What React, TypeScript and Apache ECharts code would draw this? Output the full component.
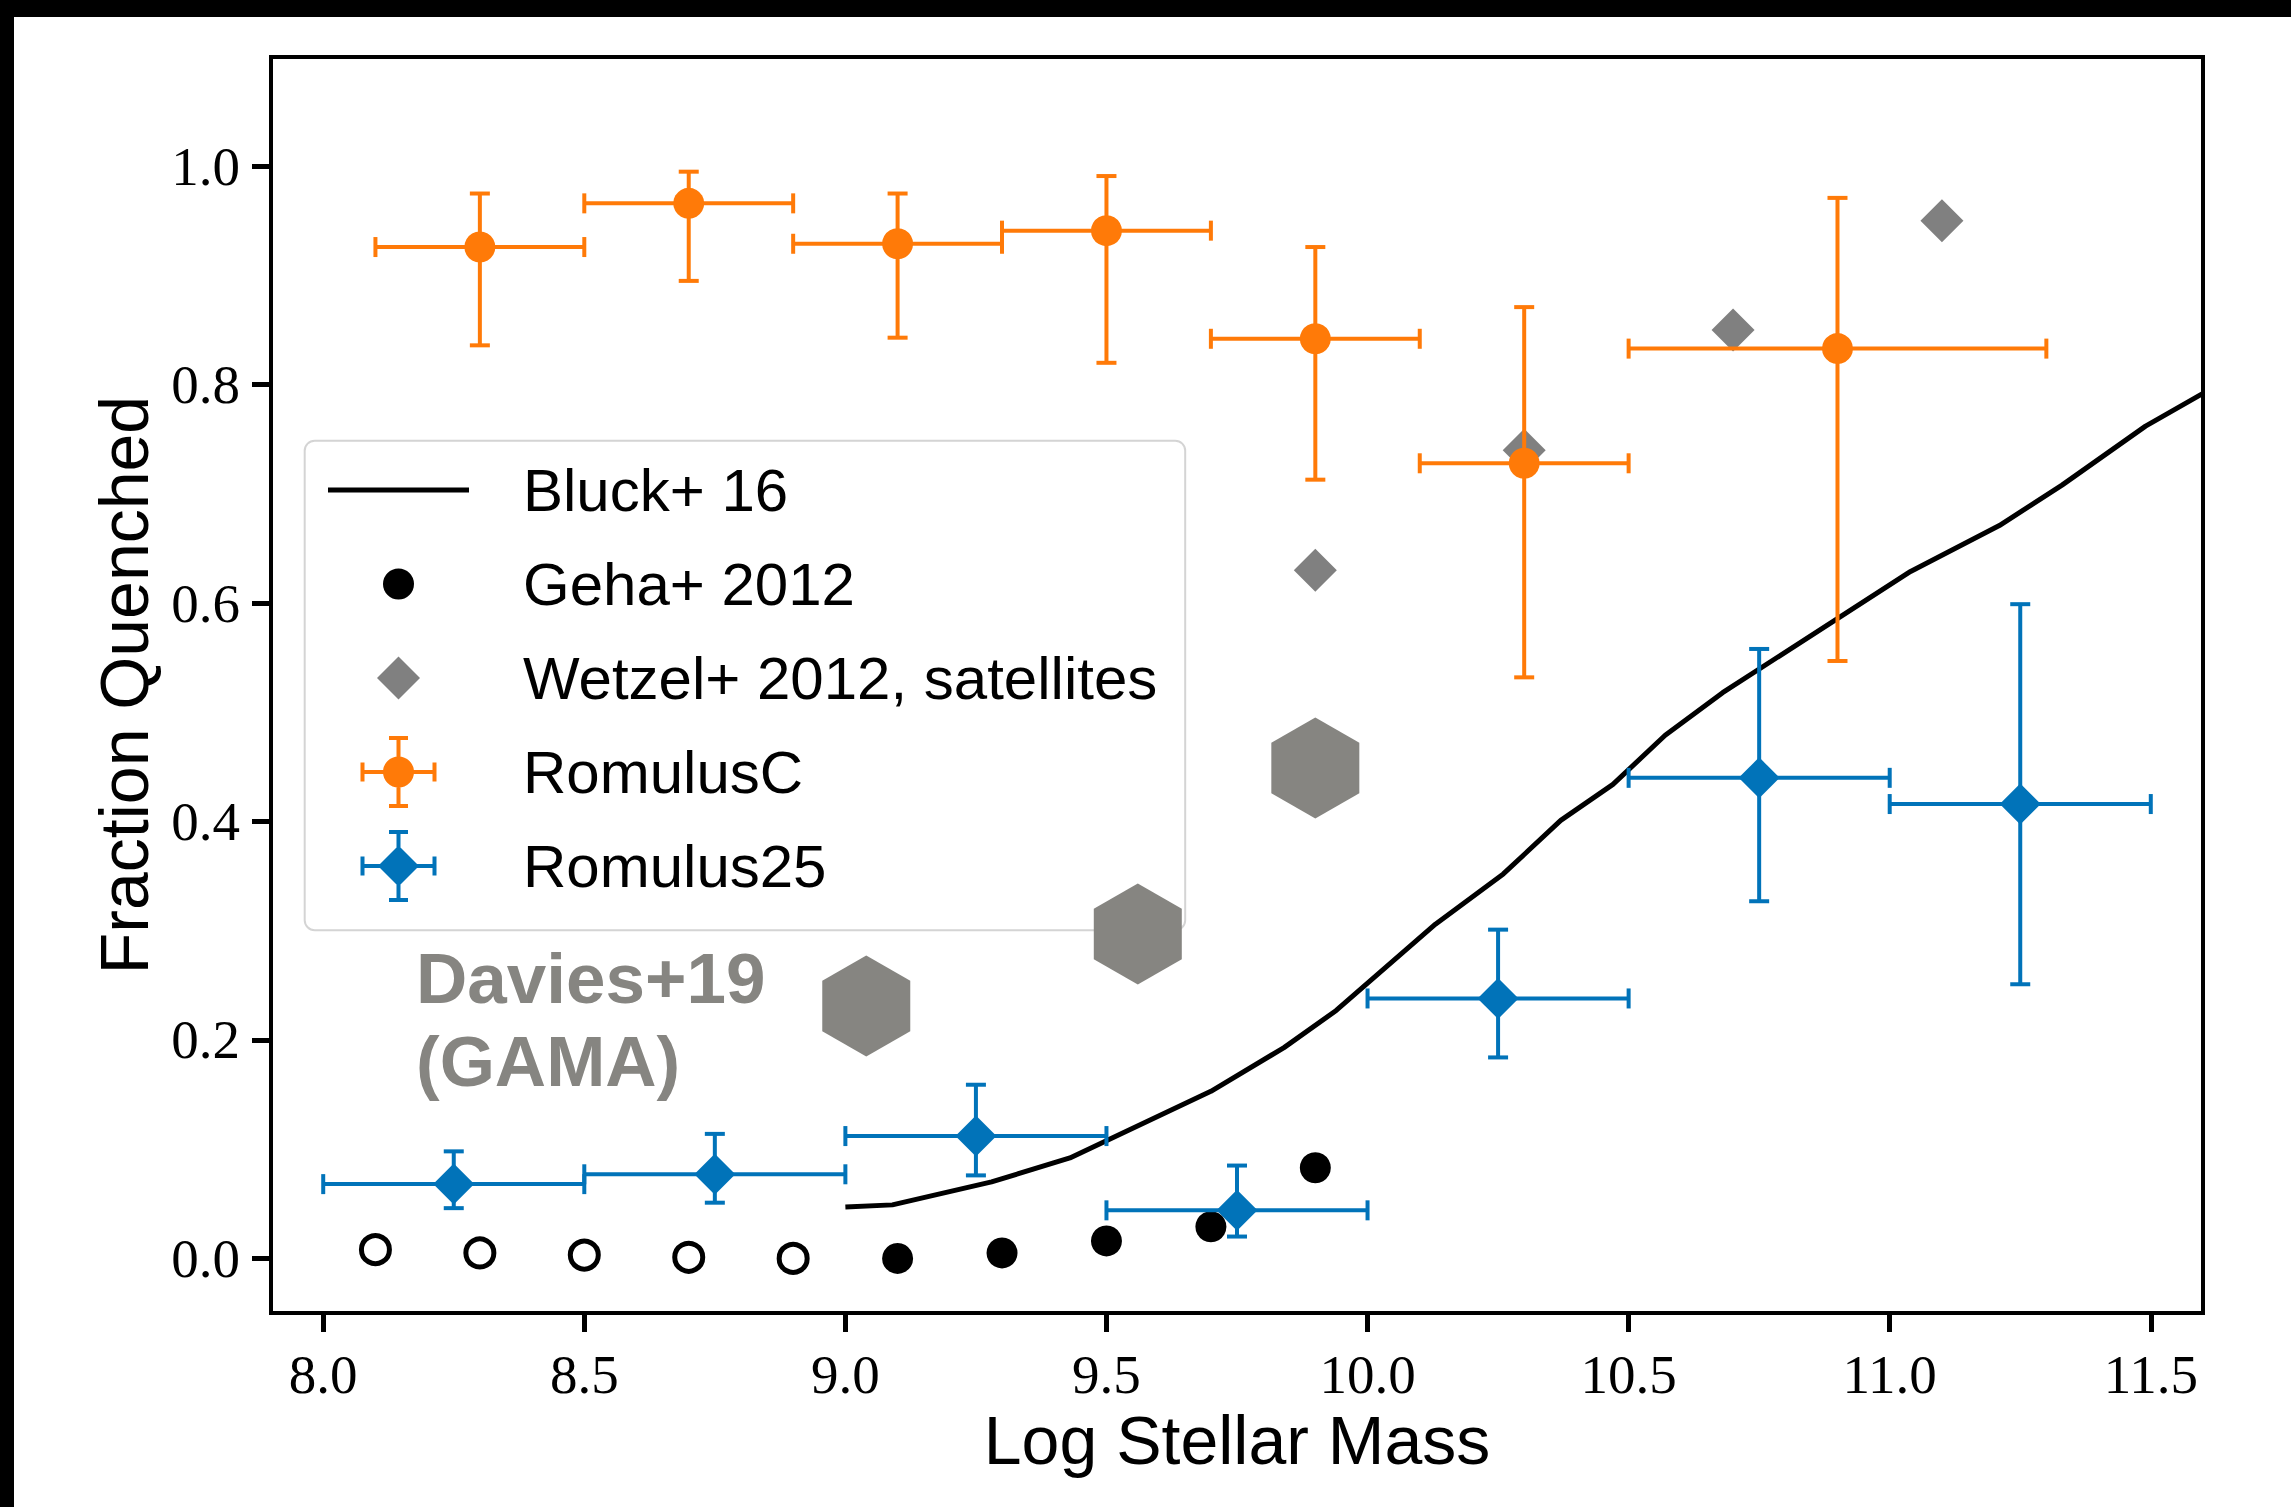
import React, { useEffect, useRef } from 'react';
import * as echarts from 'echarts';

// ---------- data ----------
const xTicks = [8.0, 8.5, 9.0, 9.5, 10.0, 10.5, 11.0, 11.5];
const yTicks = [0.0, 0.2, 0.4, 0.6, 0.8, 1.0];

const bluckX = [9.0, 9.09, 9.28, 9.43, 9.70, 9.84, 9.94, 10.13, 10.26, 10.37, 10.47, 10.57, 10.68, 11.04, 11.21, 11.33, 11.49, 11.6];
const bluckY = [0.047, 0.049, 0.070, 0.092, 0.153, 0.193, 0.227, 0.306, 0.352, 0.401, 0.434, 0.479, 0.518, 0.629, 0.671, 0.708, 0.762, 0.792];

const gehaX = [9.1, 9.3, 9.5, 9.7, 9.9];
const gehaY = [0.0, 0.005, 0.016, 0.029, 0.083];

const gehaOpenX = [8.1, 8.3, 8.5, 8.7, 8.9];
const gehaOpenY = [0.008, 0.005, 0.003, 0.001, 0.0];

const wetzelX = [9.9, 10.3, 10.7, 11.1];
const wetzelY = [0.630, 0.740, 0.850, 0.950];

const romCX = [8.3, 8.7, 9.1, 9.5, 9.9, 10.3, 10.9];
const romCY = [0.926, 0.966, 0.929, 0.941, 0.842, 0.728, 0.833];
const romCXLo = [8.1, 8.5, 8.9, 9.3, 9.7, 10.1, 10.5];
const romCXHi = [8.5, 8.9, 9.3, 9.7, 10.1, 10.5, 11.3];
const romCYLo = [0.836, 0.895, 0.843, 0.820, 0.713, 0.532, 0.547];
const romCYHi = [0.975, 0.995, 0.975, 0.991, 0.926, 0.871, 0.971];

const rom25X = [8.25, 8.75, 9.25, 9.75, 10.25, 10.75, 11.25];
const rom25Y = [0.068, 0.077, 0.112, 0.044, 0.238, 0.440, 0.416];
const rom25XLo = [8.0, 8.5, 9.0, 9.5, 10.0, 10.5, 11.0];
const rom25XHi = [8.5, 9.0, 9.5, 10.0, 10.5, 11.0, 11.5];
const rom25YLo = [0.046, 0.051, 0.076, 0.020, 0.184, 0.327, 0.251];
const rom25YHi = [0.098, 0.114, 0.159, 0.085, 0.301, 0.558, 0.599];

const daviesX = [9.04, 9.56, 9.9];
const daviesY = [0.231, 0.297, 0.449];

const legendNames = ['Bluck+ 16', 'Geha+ 2012', 'Wetzel+ 2012, satellites', 'RomulusC', 'Romulus25'];
const daviesLines = ['Davies+19', '(GAMA)'];

// ---------- styles ----------
const ORANGE = '#ff7a08';
const BLUE = '#0173b9';
const GRAY = '#808080';
const HEX = '#868581';

const zip = (a: number[], b: number[]) => a.map((v, i) => [v, b[i]]);

// legend icon helpers (icon box 190 x 72)
const R = (x: number, y: number, w: number, h: number) =>
  `M${x} ${y}L${x + w} ${y}L${x + w} ${y + h}L${x} ${y + h}Z`;
const CIRC = (cx: number, cy: number, r: number) =>
  `M${cx - r} ${cy}A${r} ${r} 0 1 1 ${cx + r} ${cy}A${r} ${r} 0 1 1 ${cx - r} ${cy}Z`;
const DIAM = (cx: number, cy: number, h: number) =>
  `M${cx} ${cy - h}L${cx + h} ${cy}L${cx} ${cy + h}L${cx - h} ${cy}Z`;
const BOX = 'M0 0M190 72';
const CX = 70.5;
const CY = 36;
const ERR =
  R(34.5, 34, 72, 4) + R(32.5, 26.5, 4, 19) + R(104.5, 26.5, 4, 19) +
  R(68.5, 0.5, 4, 71) + R(61, 0, 19, 4) + R(61, 68, 19, 4);

const iconLine = 'path://' + BOX + R(0, 33.5, 141, 5);
const iconGeha = 'path://' + BOX + CIRC(CX, CY, 15.5);
const iconWetzel = 'path://' + BOX + DIAM(CX, CY, 21.5);
const iconRomC = 'path://' + BOX + ERR + CIRC(CX, CY, 15.5);
const iconRom25 = 'path://' + BOX + ERR + DIAM(CX, CY, 20.5);

function errRender(color: string) {
  return (params: any, api: any) => {
    const x = api.value(0), y = api.value(1);
    const xl = api.value(2), xh = api.value(3), yl = api.value(4), yh = api.value(5);
    const pL = api.coord([xl, y]);
    const pR = api.coord([xh, y]);
    const pB = api.coord([x, yl]);
    const pT = api.coord([x, yh]);
    const cap = 10;
    const style = { stroke: color, lineWidth: 4, fill: 'none' };
    const ln = (x1: number, y1: number, x2: number, y2: number) => ({
      type: 'line', shape: { x1, y1, x2, y2 }, style,
    });
    return {
      type: 'group',
      children: [
        ln(pL[0], pL[1], pR[0], pR[1]),
        ln(pL[0], pL[1] - cap, pL[0], pL[1] + cap),
        ln(pR[0], pR[1] - cap, pR[0], pR[1] + cap),
        ln(pB[0], pB[1], pT[0], pT[1]),
        ln(pB[0] - cap, pB[1], pB[0] + cap, pB[1]),
        ln(pT[0] - cap, pT[1], pT[0] + cap, pT[1]),
      ],
    };
  };
}

const errData = (x: number[], y: number[], xl: number[], xh: number[], yl: number[], yh: number[]) =>
  x.map((v, i) => [v, y[i], xl[i], xh[i], yl[i], yh[i]]);

const axisLabelFont = { fontFamily: 'Liberation Serif', fontSize: 55, color: '#000' };
const nameFont = { fontFamily: 'Liberation Sans', fontSize: 68, color: '#000', verticalAlign: 'middle' as const };

export default function App() {
  const ref = useRef<HTMLDivElement>(null);
  useEffect(() => {
    if (!ref.current) return;
    const chart = echarts.init(ref.current, null, { renderer: 'svg', width: 2291, height: 1507 });
    const option: any = {
      animation: false,
      backgroundColor: '#ffffff',
      grid: { left: 271, top: 57, width: 1932, height: 1256, show: true, borderColor: '#000', borderWidth: 4, backgroundColor: 'transparent', containLabel: false, outerBoundsMode: 'none' },
      xAxis: {
        type: 'value', min: 7.9, max: 11.6,
        name: 'Log Stellar Mass', nameLocation: 'middle', nameGap: 123, nameTextStyle: nameFont,
        axisLine: { show: true, onZero: false, lineStyle: { color: '#000', width: 4 } },
        axisTick: { show: true, inside: false, length: 19, lineStyle: { color: '#000', width: 5 }, customValues: xTicks },
        axisLabel: { ...axisLabelFont, margin: 61, verticalAlign: 'middle', customValues: xTicks, formatter: (v: number) => v.toFixed(1) },
        splitLine: { show: false },
        minorTick: { show: false },
      },
      yAxis: {
        type: 'value', min: -0.05, max: 1.1,
        name: 'Fraction Quenched', nameLocation: 'middle', nameGap: 147, nameTextStyle: nameFont,
        axisLine: { show: true, onZero: false, lineStyle: { color: '#000', width: 4 } },
        axisTick: { show: true, inside: false, length: 19, lineStyle: { color: '#000', width: 5 }, customValues: yTicks },
        axisLabel: { ...axisLabelFont, margin: 31, customValues: yTicks, formatter: (v: number) => v.toFixed(1) },
        splitLine: { show: false },
        minorTick: { show: false },
      },
      legend: {
        show: true,
        orient: 'vertical',
        left: 328,
        top: 454,
        padding: 0,
        itemWidth: 190,
        itemHeight: 72,
        itemGap: 22,
        selectedMode: false,
        backgroundColor: 'transparent',
        itemStyle: { borderWidth: 0 },
        textStyle: { fontFamily: 'Liberation Sans', fontSize: 60, color: '#000' },
        data: [
          { name: legendNames[0], icon: iconLine, itemStyle: { color: '#000' } },
          { name: legendNames[1], icon: iconGeha, itemStyle: { color: '#000' } },
          { name: legendNames[2], icon: iconWetzel, itemStyle: { color: GRAY } },
          { name: legendNames[3], icon: iconRomC, itemStyle: { color: ORANGE } },
          { name: legendNames[4], icon: iconRom25, itemStyle: { color: BLUE } },
        ],
      },
      graphic: [
        { type: 'rect', z: 0, zlevel: 0, silent: true, shape: { x: 0, y: 0, width: 2291, height: 17 }, style: { fill: '#000' } },
        { type: 'rect', z: 0, zlevel: 0, silent: true, shape: { x: 0, y: 0, width: 14, height: 1507 }, style: { fill: '#000' } },
        { type: 'rect', z: 0, zlevel: 0, silent: true, shape: { x: 304.7, y: 440.7, width: 880.5, height: 489.5, r: 10 }, style: { fill: 'rgba(255,255,255,0.8)', stroke: '#d4d4d4', lineWidth: 2 } },
        { type: 'text', z: 10, silent: true, x: 416, y: 978, style: { text: daviesLines[0], fontFamily: 'Liberation Sans', fontWeight: 'bold', fontSize: 71, fill: HEX, verticalAlign: 'middle', align: 'left' } },
        { type: 'text', z: 10, silent: true, x: 416, y: 1061, style: { text: daviesLines[1], fontFamily: 'Liberation Sans', fontWeight: 'bold', fontSize: 71, fill: HEX, verticalAlign: 'middle', align: 'left' } },
      ],
      series: [
        {
          name: legendNames[0], type: 'line', data: zip(bluckX, bluckY), symbol: 'none', z: 2, silent: true,
          lineStyle: { color: '#000', width: 5 }, itemStyle: { color: '#000' },
        },
        {
          name: 'Geha+ 2012 (open)', type: 'scatter', data: zip(gehaOpenX, gehaOpenY), symbol: 'circle', symbolSize: 28, z: 2, silent: true,
          itemStyle: { color: '#fff', borderColor: '#000', borderWidth: 5, opacity: 1 },
        },
        {
          name: legendNames[1], type: 'scatter', data: zip(gehaX, gehaY), symbol: 'circle', symbolSize: 31, z: 2, silent: true,
          itemStyle: { color: '#000', opacity: 1 },
        },
        {
          name: legendNames[2], type: 'scatter', data: zip(wetzelX, wetzelY), symbol: 'diamond', symbolSize: 43, z: 2, silent: true,
          itemStyle: { color: GRAY, opacity: 1 },
        },
        {
          name: 'RomulusC err', type: 'custom', renderItem: errRender(ORANGE), z: 3, silent: true,
          encode: { x: 0, y: 1 },
          data: errData(romCX, romCY, romCXLo, romCXHi, romCYLo, romCYHi),
        },
        {
          name: 'Romulus25 err', type: 'custom', renderItem: errRender(BLUE), z: 3, silent: true,
          encode: { x: 0, y: 1 },
          data: errData(rom25X, rom25Y, rom25XLo, rom25XHi, rom25YLo, rom25YHi),
        },
        {
          name: legendNames[3], type: 'scatter', data: zip(romCX, romCY), symbol: 'circle', symbolSize: 31, z: 4, silent: true,
          itemStyle: { color: ORANGE, opacity: 1 },
        },
        {
          name: legendNames[4], type: 'scatter', data: zip(rom25X, rom25Y), symbol: 'diamond', symbolSize: 41, z: 4, silent: true,
          itemStyle: { color: BLUE, opacity: 1 },
        },
        {
          name: 'Davies+19 (GAMA)', type: 'scatter', data: zip(daviesX, daviesY),
          symbol: 'path://M43.3 0L86.6 25L86.6 75L43.3 100L0 75L0 25Z', symbolSize: [88, 101], symbolKeepAspect: false,
          z: 5, silent: true, itemStyle: { color: HEX, opacity: 1 },
        },
      ],
    };
    chart.setOption(option);
    return () => chart.dispose();
  }, []);
  return (
    <div
      ref={ref}
      style={{ position: 'fixed', left: 0, top: 0, width: 2291, height: 1507, background: '#fff' }}
    />
  );
}
